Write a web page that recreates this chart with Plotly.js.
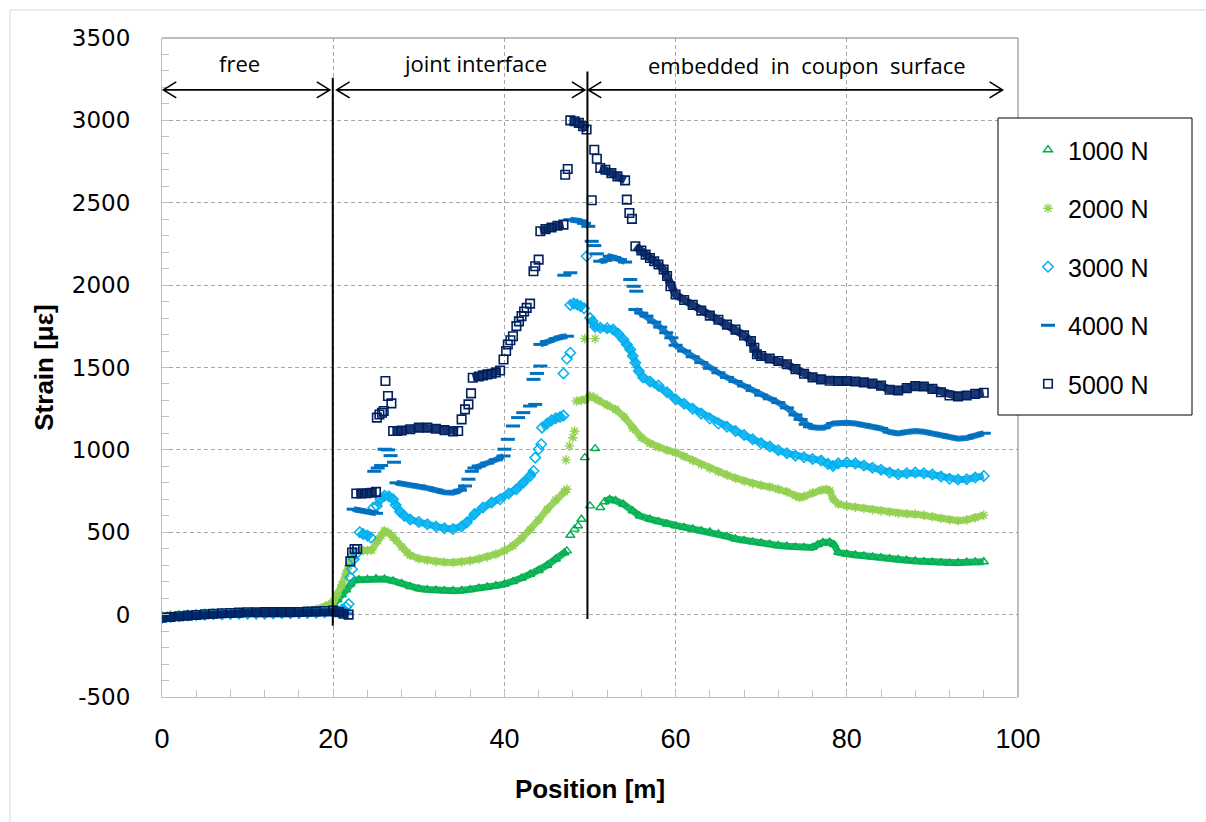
<!DOCTYPE html>
<html>
<head>
<meta charset="utf-8">
<script src="https://cdn.plot.ly/plotly-3.0.1.min.js"></script>
<style>html,body{margin:0;padding:0;background:#fff}#chart{width:1206px;height:822px}</style>
</head>
<body>
<div id="chart"></div>
<script>
// ---------------- DATA ----------------
const seriesNames = ['1000 N', '2000 N', '3000 N', '4000 N', '5000 N'];

// 1000 N  (continuous bands, null = gap between bands)
const x1000 = [0,1,2,3,4,5,6,7,8,9,10,11,12,13,14,15,16,17,18,19,19.5,20,20.5,21,21.5,22,22.5,23,24,25,26,27,28,29,30,31,32,33,34,35,36,37,38,39,40,41,42,43,44,45,46,47,47.3,null,
  51.7,52.3,53,53.9,55,55.8,57,58,59,60,61,62,63,64,65,66,67,68,69,70,71,72,73,74,75,76,76.6,77.2,78,78.5,79,80,81,82,83,84,85,86,87,88,89,90,91,92,93,94,95,96];
const y1000 = [-10,-8,-5,-3,0,2,3,5,6,6,7,8,8,9,10,12,14,17,22,38,50,60,90,120,150,185,208,212,214,218,216,205,190,170,158,152,148,146,145,147,152,160,168,176,185,200,222,245,268,300,338,375,387,null,
  685,700,692,670,630,600,580,565,550,539,530,520,510,502,490,475,460,450,442,435,428,420,415,410,408,408,425,438,440,425,378,367,362,357,350,346,340,335,330,326,322,318,316,313,315,318,320,321];
// 1000 N isolated markers
const x1000p = [47.7,48.2,48.6,49.0,49.4,50.6,50.0,51.2];
const y1000p = [482,519,539,579,953,1008,660,650];

// 2000 N
const x2000 = [0,1,2,3,4,5,6,7,8,9,10,11,12,13,14,15,16,17,18,19,19.5,20,20.5,21,21.5,21.8,22.1,22.4,23,23.5,24,24.5,25.2,25.6,26,26.5,27,27.4,28,28.6,29,30,31,32,33,34,35,36,37,38,39,40,41,42,43,44,45,46,47,47.3,null,
  48.4,49,49.5,50,50.5,51,52,53,54,55,56,57,58,59,60,61,62,63,64,65,66,67,68,69,70,71,72,73,74,74.5,75,76,77,77.6,78,78.4,79,80,81,82,83,84,85,86,87,88,89,90,91,92,93,94,95,96];
const y2000 = [-5,-3,0,2,3,4,5,6,6,7,8,8,9,10,12,14,18,24,32,48,60,78,120,180,250,296,350,385,390,388,388,392,448,480,508,495,470,448,410,377,360,340,330,322,318,317,320,328,338,350,367,387,418,462,515,575,640,697,745,761,null,
  1296,1300,1308,1327,1318,1300,1272,1245,1200,1130,1075,1040,1015,998,984,960,935,910,888,868,848,828,810,795,785,775,762,745,722,711,718,740,755,761,752,702,672,660,652,645,637,630,622,615,612,610,604,595,585,576,570,575,588,604];
const x2000p = [47.2,47.6,48.0,48.2,49.4,50.6];
const y2000p = [939,1024,1074,1115,1675,1675];

// 3000 N
const x3000 = [0,1,2,3,4,5,6,7,8,9,10,11,12,13,14,15,16,17,18,19,20,20.5,21,21.5,null,
  23.1,23.5,24,24.4,null,
  25.1,25.5,26,26.5,27,27.3,27.8,28.3,29,30,31,32,33,34,35,35.6,36.5,37.5,38.5,39.5,40.5,41.4,42.2,43,43.4,null,
  44.4,45,45.5,46,46.5,46.9,null,
  47.7,48.1,48.5,48.9,49.3,null,
  50.0,50.3,50.6,51.2,52,52.7,53.3,53.9,54.3,54.7,55,55.3,55.7,56.2,57,58,59,60,61,62,63,64,65,66,67,68,69,70,71,72,73,74,75,76,77,77.8,78.4,79,80,81,82,83,84,85,86,87,88,89,90,91,92,93,94,95,96];
const y3000 = [-20,-15,-10,-5,-2,0,2,3,4,5,5,6,6,7,8,8,9,10,12,15,18,22,30,45,null,
  500,490,480,468,null,
  660,700,722,718,700,665,625,600,578,562,548,535,524,520,535,559,610,650,680,700,735,761,800,842,872,null,
  1135,1160,1180,1192,1200,1208,null,
  1880,1888,1882,1872,1860,null,
  1800,1780,1748,1741,1738,1731,1705,1670,1640,1610,1570,1529,1478,1440,1415,1390,1350,1307,1280,1250,1220,1190,1160,1140,1115,1090,1065,1040,1020,998,980,965,955,945,935,915,902,918,923,918,905,892,880,862,852,858,862,858,850,838,825,820,822,832,842];
const x3000p = [21.8,22.0,22.2,22.4,22.7,24.7,43.6,44.0,44.3,46.9,47.3,47.7,49.6];
const y3000p = [64,226,276,337,370,650,953,1004,1034,1464,1553,1590,2175];

// 4000 N
const x4000 = [0,1,2,3,4,5,6,7,8,9,10,11,12,13,14,15,16,17,18,19,20,20.5,21,21.5,null,
  22.4,23,23.5,24,24.5,25,null,
  27.4,28,29,30,31,32,33,34,34.8,35.4,null,
  36.5,37,38,39,39.9,null,
  44.2,45,46,46.6,47.3,null,
  47.7,48.3,48.8,49.3,49.8,null,
  51.2,51.8,52.3,52.8,53.5,54.1,null,
  55.3,56,56.6,57.5,58.2,58.9,59.5,60,61,62,63,64,65,66,67,68,69,70,71,72,73,74,74.6,75.2,75.7,76.5,77.3,78.4,79,80,81,82,83,84,85,86,87,88,89,90,91,92,93,94,95,96];
const y4000 = [-15,-12,-8,-5,-2,0,2,3,4,5,6,6,7,8,8,9,10,11,12,14,15,12,8,5,null,
  640,635,630,625,620,615,null,
  800,795,790,781,768,755,742,740,755,781,null,
  890,902,920,940,963,null,
  1640,1658,1675,1685,1690,null,
  2397,2395,2390,2375,2357,null,
  2145,2150,2175,2168,2155,2140,null,
  1852,1830,1812,1775,1745,1711,1680,1635,1600,1565,1530,1495,1468,1440,1415,1388,1360,1332,1310,1287,1255,1212,1185,1155,1140,1135,1135,1160,1165,1165,1160,1152,1142,1130,1108,1100,1108,1115,1110,1100,1090,1078,1068,1072,1088,1101];
const x4000p = [24.8,25.2,25.6,26.0,26.4,26.7,27.1,35.8,36.2,40.0,40.4,41.0,41.6,42.2,43.0,43.6,43.4,43.8,44.2,47.0,47.7,50.2,50.5,50.8,54.7,55.1,55.4];
const y4000p = [870,890,905,1004,1000,965,925,822,870,1004,1064,1145,1196,1226,1266,1276,1428,1464,1509,2060,2075,2266,2240,2190,2034,1993,1963];

// 5000 N
const x5000 = [0,1,2,3,4,5,6,7,8,9,10,11,12,13,14,15,16,17,18,19,20,20.7,21.2,21.8,null,
  22.7,23.3,23.9,24.5,25.0,null,
  27.0,27.5,28,29,30,31,32,33,34,34.6,null,
  36.3,37,37.5,38,38.5,39,39.5,null,
  44.2,44.8,45.5,46.2,46.9,null,
  47.7,48.2,48.7,49.2,49.6,null,
  51.2,51.8,52.5,53.2,54.1,null,
  55.3,56,56.5,57,57.5,58,58.6,59,59.4,60,61,62,63,64,65,66,67,68,68.8,69.2,69.5,70,71,72,73,74,75,76,77,78,79,80,81,82,83,84,85,86,87,88,89,90,91,92,93,94,95,96];
const y5000 = [-18,-14,-10,-6,-2,2,5,8,10,12,14,14,15,15,15,15,16,18,20,22,24,15,5,0,null,
  735,735,737,740,745,null,
  1115,1115,1118,1125,1135,1135,1128,1120,1112,1115,null,
  1438,1445,1452,1458,1462,1470,1482,null,
  2327,2340,2350,2360,2367,null,
  3000,2995,2985,2965,2945,null,
  2711,2700,2680,2660,2636,null,
  2236,2210,2185,2165,2145,2125,2095,2055,1993,1943,1910,1880,1845,1815,1790,1760,1730,1695,1660,1620,1580,1570,1555,1539,1520,1490,1462,1440,1428,1420,1418,1418,1415,1410,1402,1390,1365,1360,1375,1387,1385,1370,1350,1330,1325,1330,1340,1347];
const x5000p = [22.0,22.2,22.5,22.8,25.1,25.4,25.7,25.9,26.1,26.4,26.8,35.0,35.4,35.8,36.1,39.9,40.2,40.4,40.7,41.0,41.4,41.7,42.0,42.3,42.6,43.0,43.4,43.6,44.0,47.1,47.4,50.2,50.5,50.8,54.3,54.6,54.9];
const y5000p = [323,377,398,398,1196,1215,1225,1236,1418,1327,1282,1185,1246,1276,1343,1549,1600,1640,1665,1690,1751,1780,1812,1840,1862,1888,2084,2115,2155,2670,2705,2515,2822,2767,2519,2438,2402];

const xTickVals = [0,20,40,60,80,100];
const xTickText = ['0','20','40','60','80','100'];
const yTickVals = [-500,0,500,1000,1500,2000,2500,3000,3500];
const yTickText = ['-500','0','500','1000','1500','2000','2500','3000','3500'];
const regionLabels = ['free', 'joint interface', 'embedded  in  coupon  surface'];

// ---------------- STYLE ----------------
const styles = [
  {color:'#00b050', symbol:'triangle-up-open', size:8,  lw:1.4, band:7},
  {color:'#92d050', symbol:'asterisk-open',    size:8,  lw:1.4, band:7},
  {color:'#00b0f0', symbol:'diamond-open',     size:8,  lw:1.5, band:7},
  {color:'#0070c0', symbol:'line-ew-open',     size:10, lw:3,   band:6},
  {color:'#002060', symbol:'square-open',      size:8.5,lw:1.6, band:8}
];
const bands = [[x1000,y1000],[x2000,y2000],[x3000,y3000],[x4000,y4000],[x5000,y5000]];
const pts   = [[x1000p,y1000p],[x2000p,y2000p],[x3000p,y3000p],[x4000p,y4000p],[x5000p,y5000p]];

const traces = [];
seriesNames.forEach((name, i) => {
  const s = styles[i];
  traces.push({
    type:'scatter', mode:'lines', x:bands[i][0], y:bands[i][1], connectgaps:false,
    line:{color:s.color, width:s.band}, opacity:0.9, showlegend:false,
    legendgroup:name, hoverinfo:'skip'
  });
  const mx = bands[i][0].concat(pts[i][0]);
  const my = bands[i][1].concat(pts[i][1]);
  traces.push({
    type:'scatter', mode:'markers', name:name, x:mx, y:my, legendgroup:name,
    marker:{symbol:s.symbol, size:s.size, color:s.color, line:{color:s.color, width:s.lw}}
  });
});

// ---------------- LAYOUT ----------------
const L = 162, T = 38, W = 856, H = 659;
const XR = [0,100], YR = [-500,3500];
const pxX = p => p * (XR[1]-XR[0]) / W;     // pixel length -> x units
const pxY = p => p * (YR[1]-YR[0]) / H;     // pixel length -> y units
const paperX = px => (px - L) / W;
const paperY = py => (T + H - py) / H;

const shapes = [];
// outer chart border (light grey)
shapes.push({type:'rect', xref:'paper', yref:'paper', x0:paperX(10), x1:paperX(1230), y0:paperY(860), y1:paperY(10),
  line:{color:'#d9d9d9', width:1}, fillcolor:'rgba(0,0,0,0)', layer:'below'});
// plot frame top/right
shapes.push({type:'line', xref:'paper', yref:'paper', x0:0, x1:1, y0:1, y1:1, line:{color:'#7f7f7f', width:1}, layer:'above'});
shapes.push({type:'line', xref:'paper', yref:'paper', x0:1, x1:1, y0:0, y1:1, line:{color:'#7f7f7f', width:1}, layer:'above'});
// region dividers
shapes.push({type:'line', xref:'x', yref:'y', x0:19.95, x1:19.95, y0:3258, y1:-67, line:{color:'#000', width:2}, layer:'above'});
shapes.push({type:'line', xref:'x', yref:'y', x0:49.7, x1:49.7, y0:3296, y1:-27, line:{color:'#000', width:2}, layer:'above'});
// double arrows
const arrowY = 3185;
function dblArrow(xa, xb) {
  const hx = pxX(13), hy = pxY(8);
  shapes.push({type:'path', xref:'x', yref:'y', layer:'above', line:{color:'#000', width:1.6},
    path:`M${xa},${arrowY} L${xb},${arrowY} M${xa+hx},${arrowY+hy} L${xa},${arrowY} L${xa+hx},${arrowY-hy} M${xb-hx},${arrowY+hy} L${xb},${arrowY} L${xb-hx},${arrowY-hy}`});
}
dblArrow(0.15, 19.6);
dblArrow(20.4, 49.4);
dblArrow(49.8, 98.2);
// legend box
shapes.push({type:'rect', xref:'paper', yref:'paper', x0:paperX(998), x1:paperX(1192), y0:paperY(415), y1:paperY(118),
  line:{color:'#000', width:1}, fillcolor:'#fff', layer:'above'});

const annFont = {family:'Open Sans', size:22, color:'#000'};
const annotations = [
  {x:9.1, y:3349, text:regionLabels[0]},
  {x:36.6, y:3349, text:regionLabels[1]},
  {x:75.4, y:3335, text:regionLabels[2]}
].map(a => Object.assign({xref:'x', yref:'y', showarrow:false, font:annFont, xanchor:'center', yanchor:'middle'}, a));

const layout = {
  width:1206, height:822,
  margin:{l:L, r:1206-L-W, t:T, b:822-T-H, autoexpand:false},
  paper_bgcolor:'#fff', plot_bgcolor:'#fff',
  showlegend:true,
  legend:{x:paperX(1028), xanchor:'left', y:paperY(127), yanchor:'top', bgcolor:'rgba(0,0,0,0)', borderwidth:0,
    font:{family:'Liberation Sans, Arial, sans-serif', size:25, color:'#000'}, tracegroupgap:23, itemsizing:'trace'},
  xaxis:{range:XR, tickvals:xTickVals, ticktext:xTickText, ticks:'inside', ticklen:7, tickcolor:'#bfbfbf', tickwidth:1,
    showline:true, linecolor:'#bfbfbf', linewidth:1, showgrid:true, gridcolor:'#a6a6a6', griddash:'4px,3px', gridwidth:1,
    zeroline:false, minor:{dtick:4, tick0:0, ticks:'inside', ticklen:7, tickcolor:'#bfbfbf', showgrid:false},
    tickfont:{family:'Liberation Sans, Arial, sans-serif', size:27, color:'#000'}, ticklabelstandoff:18,
    title:{text:'<b>Position [m]</b>', font:{family:'Liberation Sans, Arial, sans-serif', size:26, color:'#000'}, standoff:26}},
  yaxis:{range:YR, tickvals:yTickVals, ticktext:yTickText, ticks:'inside', ticklen:7, tickcolor:'#bfbfbf', tickwidth:1,
    showline:true, linecolor:'#bfbfbf', linewidth:1, showgrid:true, gridcolor:'#a6a6a6', griddash:'4px,3px', gridwidth:1,
    zeroline:false, minor:{dtick:100, tick0:0, ticks:'inside', ticklen:7, tickcolor:'#bfbfbf', showgrid:false},
    tickfont:{family:'DejaVu Sans, sans-serif', size:23, color:'#000'}, ticklabelstandoff:26,
    title:{text:'<b>Strain [με]</b>', font:{family:'Liberation Sans, Arial, sans-serif', size:26, color:'#000'}, standoff:10}},
  shapes:shapes,
  annotations:annotations
};

Plotly.newPlot('chart', traces, layout, {displayModeBar:false, staticPlot:true});
</script>
</body>
</html>
